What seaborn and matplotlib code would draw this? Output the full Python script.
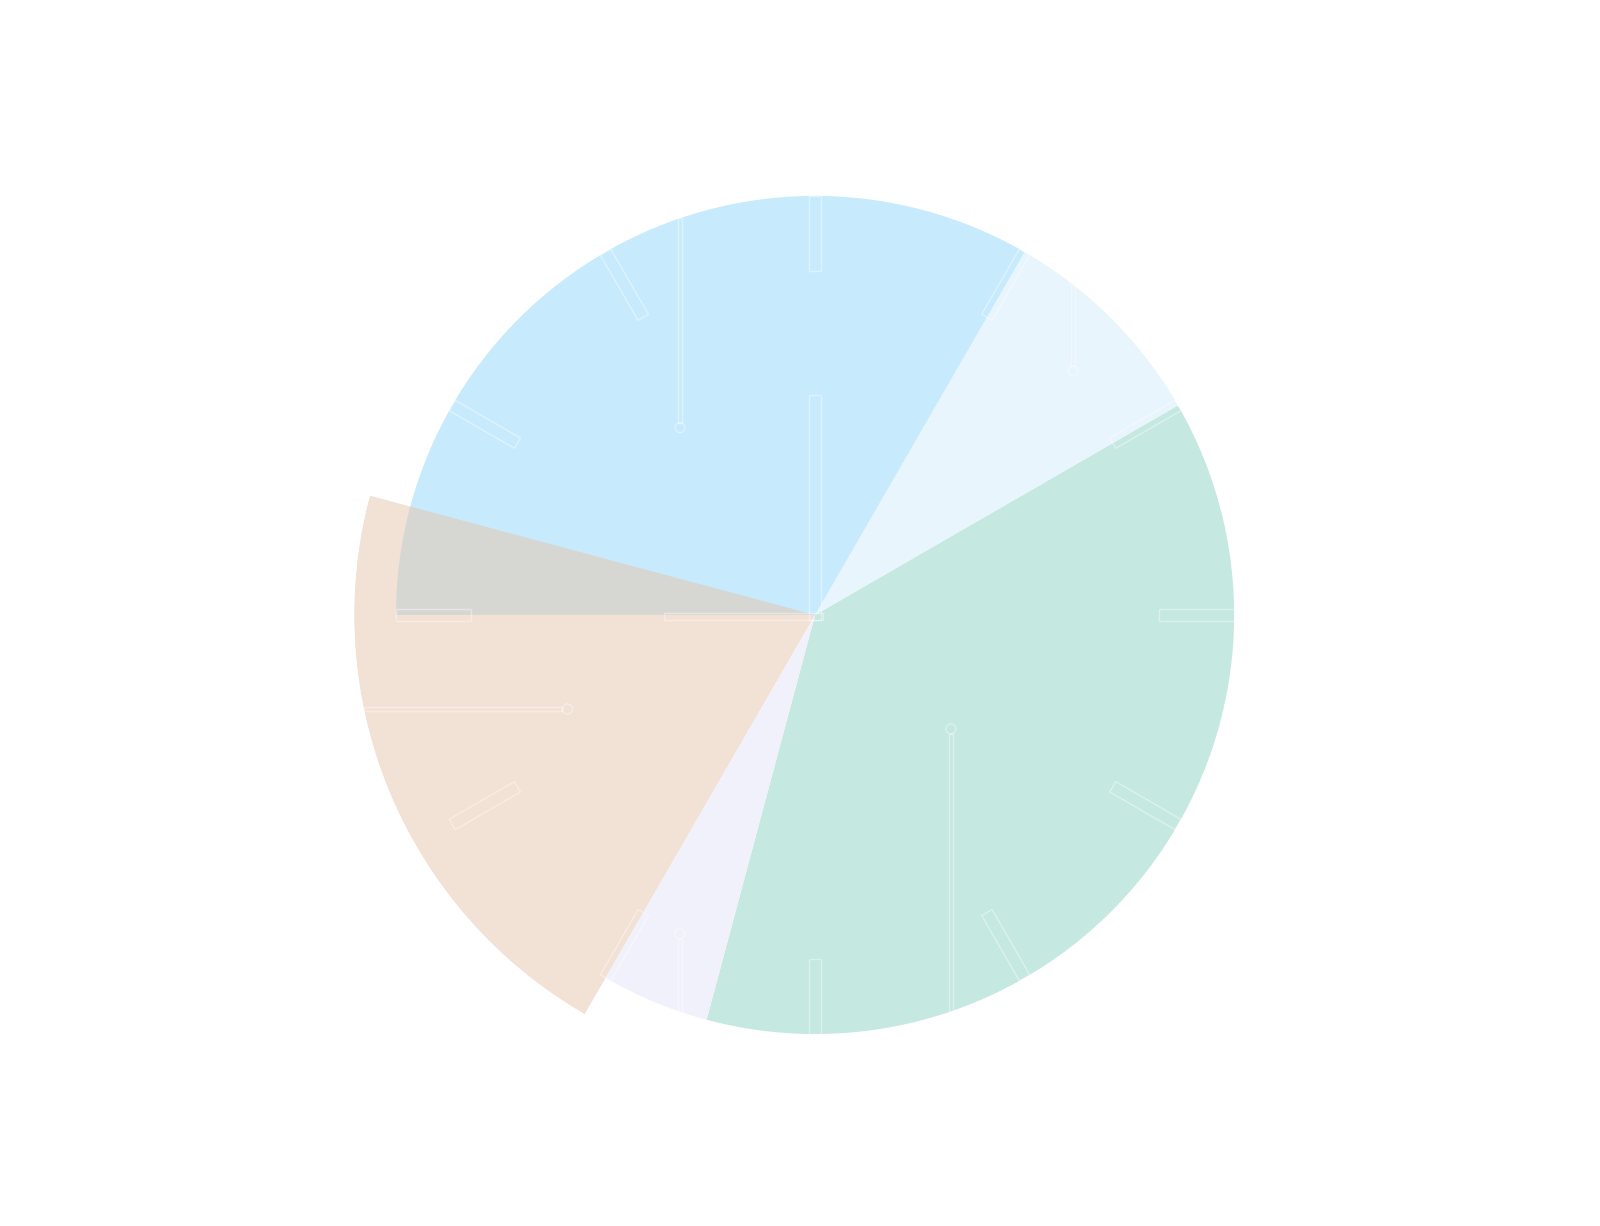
import numpy as np
import seaborn as sns
import matplotlib.pyplot as plt
from matplotlib.patches import Polygon, Circle

sns.set_theme(style="white")

# Slices: start angle (deg, counter-clockwise from east), sweep (deg), radius
slice_names = ["teal", "sky", "blue", "peach", "lavender"]
slice_start = [255, 30, 60, 165, 240]
slice_sweep = [135, 30, 120, 75, 15]
slice_radius = [1.0, 1.0, 1.0, 1.1, 1.0]
slice_colors = ["#C5E8E1", "#E8F5FD", "#C7EBFC", "#E6C4AC", "#F1F1FC"]
slice_alpha = [1.0, 1.0, 1.0, 0.5, 1.0]

# Marker dots inside each slice (angle deg, radius) and where their leader runs
marker_angle = [320, 43.4, 125.8, 200.8, 247]
marker_radius = [0.423, 0.847, 0.551, 0.632, 0.826]
marker_dir = ["down", "up", "up", "left", "down"]

fig = plt.figure(figsize=(16, 12.26), dpi=100)
rect = [0.2213, 0.1224, 0.57625, 0.7520]
ax = fig.add_axes(rect, projection="polar")
for s, w, r, c, a in zip(slice_start, slice_sweep, slice_radius, slice_colors, slice_alpha):
    ax.bar(np.radians(s + w / 2), r, width=np.radians(w), bottom=0,
           color=c, alpha=a, linewidth=0, align="center")
ax.set_ylim(0, 1.1)
ax.set_axis_off()

# flat overlay for the faint white outlines
ov = fig.add_axes(rect)
ov.set_xlim(-1.1, 1.1)
ov.set_ylim(-1.1, 1.1)
ov.axis("off")
ov.patch.set_alpha(0)

px = 1.0 / 419  # one pixel in data units
line_kw = dict(fill=False, edgecolor="white", linewidth=1.0, alpha=0.4)


def box(p0, p1, half):
    p0, p1 = np.array(p0, float), np.array(p1, float)
    d = p1 - p0
    n = np.array([-d[1], d[0]]) / np.hypot(*d) * half
    ov.add_patch(Polygon([p0 + n, p1 + n, p1 - n, p0 - n], closed=True, **line_kw))


# clock-like ticks on the rim
for a in range(0, 360, 30):
    t = np.radians(a)
    u = np.array([np.cos(t), np.sin(t)])
    box(0.82 * u, 1.0 * u, 6 * px)

# inner bars from the centre
box((0, -5 * px), (0, 0.525), 6 * px)
box((8 * px, -2 * px), (-0.36, -2 * px), 3.5 * px)

# leader lines with hollow dots
for ang, rr, d in zip(marker_angle, marker_radius, marker_dir):
    t = np.radians(ang)
    x0, y0 = rr * np.cos(t), rr * np.sin(t)
    R = 1.1 if 165 <= ang < 240 else 1.0
    if d == "up":
        x1, y1 = x0, np.sqrt(R ** 2 - x0 ** 2)
        box((x0, y0 + 5 * px), (x1, y1), 2 * px)
    elif d == "down":
        x1, y1 = x0, -np.sqrt(R ** 2 - x0 ** 2)
        box((x0, y0 - 5 * px), (x1, y1), 2 * px)
    else:
        x1, y1 = -np.sqrt(R ** 2 - y0 ** 2), y0
        box((x0 - 5 * px, y0), (x1, y1), 2 * px)
    ov.add_patch(Circle((x0, y0), 5 * px, **line_kw))

fig.savefig("out.png", dpi=100)
